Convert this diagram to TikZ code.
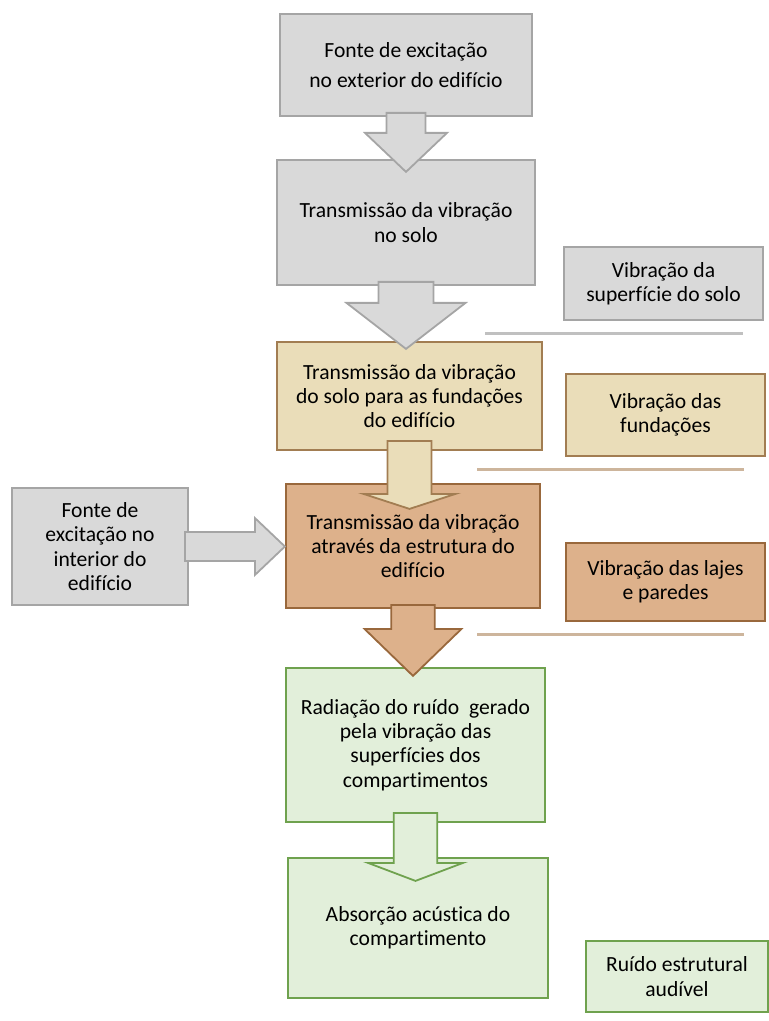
\documentclass[tikz,border=0pt]{standalone}
\usepackage{fontspec}
\setmainfont{Carlito}[Ligatures=NoCommon]
\definecolor{grayfill}{HTML}{D9D9D9}
\definecolor{grayline}{HTML}{A5A5A5}
\definecolor{tanfill}{HTML}{EADDB9}
\definecolor{tanline}{HTML}{A27D52}
\definecolor{brownfill}{HTML}{DDB18B}
\definecolor{brownline}{HTML}{99683C}
\definecolor{greenfill}{HTML}{E2EFDA}
\definecolor{greenline}{HTML}{6FA24E}
\definecolor{tanrule}{HTML}{CDB59C}
\tikzset{
	boxsize/.style 2 args={minimum width=#1*0.5pt, minimum height=#2*0.5pt},
	box/.style={draw, line width=0.9pt, align=center, inner sep=0pt, font=\fontsize{10.8}{12.2}\selectfont},
	graybox/.style={box, fill=grayfill, draw=grayline},
	tanbox/.style={box, fill=tanfill, draw=tanline},
	brownbox/.style={box, fill=brownfill, draw=brownline},
	greenbox/.style={box, fill=greenfill, draw=greenline},
	grayarrow/.style={fill=grayfill, draw=grayline, line width=0.9pt},
	tanarrow/.style={fill=tanfill, draw=tanline, line width=0.9pt},
	brownarrow/.style={fill=brownfill, draw=brownline, line width=0.9pt},
	greenarrow/.style={fill=greenfill, draw=greenline, line width=0.9pt},
}
% style, anchor, overlap, shaft, head, shaft half width, head half width
\newcommand{\downblock}[7]{\draw[#1] (#2) ++(-#6,-#3) -- ++(0,#3+#4) -- ++(#6-#7,0) -- ++(#7,#5) -- ++(#7,-#5) -- ++(#6-#7,0) -- ++(0,-#3-#4) -- cycle;}
\begin{document}
\begin{tikzpicture}[x=0.5pt,y=-0.5pt]
	\useasboundingbox (0,0) rectangle (769,1021);
	\node[graybox, boxsize={252}{102}] (exterior) at (406,65) {Fonte de excitação\\[2.75pt]no exterior do edifício};
	\node[graybox, boxsize={258}{125}] (solo) at (406,222.5) {Transmissão da vibração\\no solo};
	\node[tanbox, boxsize={265}{108}] (fundacoes) at (409.5,396) {Transmissão da vibração\\do solo para as fundações\\do edifício};
	\node[brownbox, boxsize={254}{124}] (estrutura) at (413,546) {Transmissão da vibração\\através da estrutura do\\edifício};
	\node[greenbox, boxsize={259}{154}] (radiacao) at (415.5,745) {Radiação do ruído~ gerado\\pela vibração das\\superfícies dos\\compartimentos};
	\node[greenbox, boxsize={260}{140}] (absorcao) at (418,928) {Absorção acústica do\\compartimento};
	\node[graybox, boxsize={176}{117}] (interior) at (100,546.5) {Fonte de\\excitação no\\interior do\\edifício};
	\node[graybox, boxsize={199}{73}] (vsolo) at (663.5,283.5) {Vibração da\\superfície do solo};
	\node[tanbox, boxsize={199}{82}] (vfund) at (665.5,415) {Vibração das\\fundações};
	\node[brownbox, boxsize={199}{78}] (vlajes) at (665.5,582) {Vibração das lajes\\e paredes};
	\node[greenbox, boxsize={182}{71}] (audivel) at (677,976.5) {Ruído estrutural\\audível};
	\draw[grayline!70, line width=1.5pt] (485,333) -- (743,333);
	\draw[tanrule, line width=1.5pt] (477,469) -- (744,469);
	\draw[tanrule, line width=1.5pt] (477,634) -- (744,634);
	\downblock{grayarrow}{exterior.south}{4}{16}{39}{19.5}{41}
	\downblock{grayarrow}{solo.south}{4}{17}{46}{27.5}{59.5}
	\downblock{tanarrow}{fundacoes.south}{10}{43}{15}{22}{46}
	\downblock{brownarrow}{estrutura.south}{4}{20}{47}{21.7}{48.5}
	\downblock{greenarrow}{radiacao.south}{10}{40}{18}{21.7}{47.5}
	\draw[grayarrow] (interior.east) ++(-4,-14.5) -- ++(70,0) -- ++(0,-14) -- ++(30,28.5) -- ++(-30,28.5) -- ++(0,-14) -- ++(-70,0) -- cycle;
\end{tikzpicture}
\end{document}
